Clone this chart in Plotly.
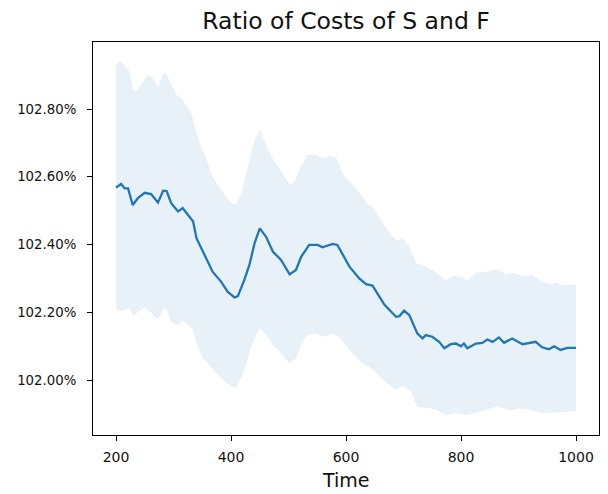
import plotly.graph_objects as go

# Mean ratio of costs (percent) over time
mean_time = [200, 209, 215, 221, 229, 238, 250, 261, 273, 282, 288, 296, 308, 316, 325, 334, 340, 357, 368, 383,
             394, 406, 412, 423, 432, 441, 450, 461, 473, 487, 502, 513, 522, 536, 551, 559, 577, 585, 600, 606,
             623, 635, 646, 658, 667, 687, 693, 701, 710, 724, 733, 739, 750, 762, 771, 782, 791, 800, 805, 811,
             826, 837, 846, 855, 866, 875, 889, 907, 918, 930, 941, 953, 962, 973, 985, 1000]
mean_ratio = [102.568, 102.579, 102.566, 102.566, 102.517, 102.537, 102.553, 102.549, 102.524, 102.559, 102.558,
              102.522, 102.498, 102.508, 102.488, 102.469, 102.419, 102.360, 102.320, 102.290, 102.261, 102.244,
              102.248, 102.295, 102.340, 102.404, 102.448, 102.423, 102.379, 102.355, 102.312, 102.325, 102.364,
              102.399, 102.399, 102.392, 102.402, 102.399, 102.355, 102.335, 102.300, 102.283, 102.279, 102.246,
              102.222, 102.187, 102.189, 102.205, 102.192, 102.138, 102.123, 102.133, 102.128, 102.113, 102.094,
              102.106, 102.108, 102.100, 102.108, 102.094, 102.108, 102.110, 102.120, 102.113, 102.126, 102.110,
              102.123, 102.106, 102.110, 102.113, 102.097, 102.091, 102.100, 102.089, 102.095, 102.095]

# Upper edge of the band
upper_time = [200, 209, 218, 224, 230, 238, 247, 256, 264, 273, 282, 288, 296, 305, 314, 322, 331, 340, 348, 357,
              366, 377, 389, 400, 409, 418, 429, 441, 450, 458, 470, 484, 493, 502, 510, 519, 533, 548, 559, 571,
              583, 594, 612, 629, 638, 646, 664, 681, 690, 698, 710, 722, 733, 750, 762, 774, 785, 800, 811, 826,
              843, 855, 866, 878, 892, 907, 924, 936, 953, 965, 976, 1000]
upper_ratio = [102.930, 102.943, 102.921, 102.911, 102.852, 102.857, 102.881, 102.901, 102.891, 102.866, 102.906,
               102.903, 102.871, 102.842, 102.832, 102.812, 102.788, 102.729, 102.689, 102.655, 102.606, 102.576,
               102.547, 102.522, 102.517, 102.551, 102.630, 102.709, 102.739, 102.709, 102.660, 102.625, 102.601,
               102.576, 102.583, 102.620, 102.665, 102.665, 102.655, 102.662, 102.658, 102.610, 102.576, 102.541,
               102.517, 102.512, 102.463, 102.423, 102.409, 102.422, 102.394, 102.345, 102.340, 102.325, 102.310,
               102.295, 102.307, 102.305, 102.295, 102.317, 102.320, 102.325, 102.327, 102.310, 102.317, 102.307,
               102.310, 102.295, 102.284, 102.287, 102.280, 102.283]

# Lower edge of the band
lower_time = [200, 206, 215, 224, 230, 238, 250, 261, 273, 282, 288, 296, 308, 316, 325, 334, 342, 351, 363, 371,
              383, 394, 403, 409, 421, 435, 450, 461, 473, 487, 502, 513, 522, 533, 548, 559, 577, 588, 606, 629,
              641, 655, 672, 687, 698, 713, 724, 736, 756, 774, 791, 808, 826, 843, 863, 884, 901, 918, 941, 965,
              1000]
lower_ratio = [102.212, 102.205, 102.207, 102.212, 102.187, 102.202, 102.214, 102.199, 102.179, 102.212, 102.209,
               102.172, 102.162, 102.177, 102.162, 102.148, 102.098, 102.064, 102.044, 102.025, 102.005, 101.990,
               101.980, 101.980, 102.020, 102.098, 102.153, 102.133, 102.103, 102.079, 102.049, 102.064, 102.103,
               102.133, 102.138, 102.128, 102.138, 102.128, 102.089, 102.049, 102.039, 102.015, 101.990, 101.970,
               101.985, 101.965, 101.921, 101.919, 101.913, 101.897, 101.903, 101.897, 101.903, 101.911, 101.923,
               101.911, 101.916, 101.913, 101.902, 101.906, 101.909]

x_ticks = [200, 400, 600, 800, 1000]
y_ticks = [102.0, 102.2, 102.4, 102.6, 102.8]

FONT = "DejaVu Sans"
TXT = "#111111"
W, H = 608, 494
L, R, T, B = 93, 9, 42, 59

fig = go.Figure()
fig.add_trace(go.Scatter(
    x=upper_time + lower_time[::-1],
    y=upper_ratio + lower_ratio[::-1],
    fill="toself", fillcolor="rgba(31,119,180,0.1)",
    line=dict(width=0), mode="lines", hoverinfo="skip", showlegend=False))
fig.add_trace(go.Scatter(
    x=mean_time, y=mean_ratio, mode="lines",
    line=dict(color="#1f77b4", width=2.3), showlegend=False))

axis_common = dict(showgrid=False, zeroline=False, showline=True, mirror=True,
                   linecolor="black", linewidth=1, ticks="outside", ticklen=5,
                   tickcolor="black", tickwidth=1)

fig.update_layout(
    width=W, height=H,
    margin=dict(l=L, r=R, t=T, b=B, pad=0),
    paper_bgcolor="white", plot_bgcolor="white",
    font=dict(family=FONT, color=TXT),
    title=dict(text="Ratio of Costs of S and F", x=0.5, xref="paper",
               y=1 - 20.5 / H, yref="container", yanchor="middle", xanchor="center",
               font=dict(family=FONT, size=23.5, color=TXT)),
    xaxis=dict(range=[160, 1040], tickvals=x_ticks, ticktext=[str(v) for v in x_ticks],
               ticklabelstandoff=4,
               tickfont=dict(family=FONT, size=14, color=TXT), **axis_common),
    yaxis=dict(range=[101.838, 102.998], tickvals=y_ticks,
               ticktext=[f"{v:.2f}%" for v in y_ticks], ticklabelstandoff=8,
               tickfont=dict(family=FONT, size=13.3, color=TXT), **axis_common),
    annotations=[dict(text="Time", x=0.5, xref="paper", y=-(479.5 - (H - B)) / (H - T - B), yref="paper",
                      xanchor="center", yanchor="middle", showarrow=False,
                      font=dict(family=FONT, size=19, color=TXT))],
)

fig.write_html("out.html")
